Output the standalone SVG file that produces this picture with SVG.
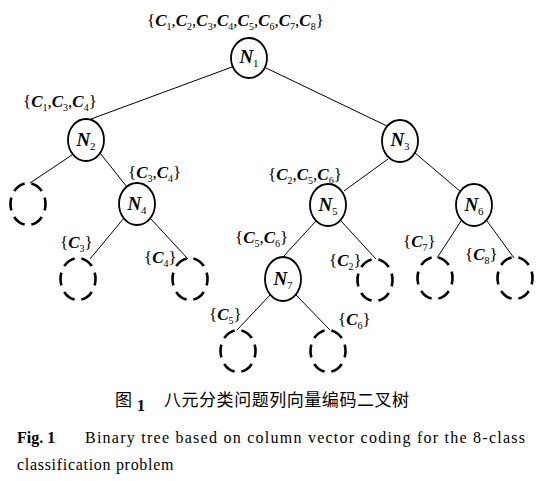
<svg xmlns="http://www.w3.org/2000/svg" width="542" height="481" viewBox="0 0 542 481">
<style>
.bg{fill:#fff}
.node{fill:#fff;stroke:#000;stroke-width:1.8}
.leaf{fill:none;stroke:#000;stroke-width:2.6;stroke-dasharray:13 7;stroke-dashoffset:6.5}
.edge{stroke:#000;stroke-width:1;fill:none}
.lbl{font-family:"Liberation Serif","Times New Roman",serif;font-size:17px;fill:#000}
.c{font-weight:bold;font-style:italic}
.s{font-size:10px;font-weight:normal;font-style:normal}
.nl{font-family:"Liberation Serif","Times New Roman",serif;font-size:19px;font-weight:bold;font-style:italic;fill:#000}
.ns{font-size:11px;font-weight:normal;font-style:normal}
.cn{font-family:"Noto Sans CJK SC","Noto Sans",sans-serif;font-size:17px;fill:#000}
.en{font-family:"Liberation Serif","Times New Roman",serif;font-size:16px;fill:#000}
</style>
<rect class="bg" x="0" y="0" width="542" height="481"/>
<g id="connectors">
<line class="edge" x1="232" y1="67" x2="91" y2="119"/>
<line class="edge" x1="264" y1="67" x2="387" y2="126"/>
<line class="edge" x1="72" y1="155" x2="30" y2="183"/>
<line class="edge" x1="100" y1="153" x2="127" y2="187"/>
<line class="edge" x1="124" y1="218" x2="90" y2="259"/>
<line class="edge" x1="150" y1="218" x2="188" y2="259"/>
<line class="edge" x1="388" y1="159" x2="344" y2="191"/>
<line class="edge" x1="415" y1="153" x2="461" y2="192"/>
<line class="edge" x1="316" y1="221" x2="283" y2="257"/>
<line class="edge" x1="341" y1="221" x2="376" y2="259"/>
<line class="edge" x1="461" y1="221" x2="437" y2="258"/>
<line class="edge" x1="487" y1="221" x2="514" y2="258"/>
<line class="edge" x1="271" y1="294" x2="237" y2="330"/>
<line class="edge" x1="296" y1="295" x2="330" y2="330"/>
</g>
<g id="N1"><ellipse class="node" cx="249" cy="58" rx="18" ry="20"/><text class="nl" x="249" y="63" text-anchor="middle">N<tspan class="ns" dy="4">1</tspan></text></g>
<g id="N2"><ellipse class="node" cx="86" cy="140" rx="18" ry="21"/><text class="nl" x="86" y="146" text-anchor="middle">N<tspan class="ns" dy="4">2</tspan></text></g>
<g id="N3"><ellipse class="node" cx="400" cy="141" rx="18" ry="21"/><text class="nl" x="400" y="146" text-anchor="middle">N<tspan class="ns" dy="4">3</tspan></text></g>
<g id="N4"><ellipse class="node" cx="137" cy="204" rx="18" ry="21"/><text class="nl" x="137" y="210" text-anchor="middle">N<tspan class="ns" dy="4">4</tspan></text></g>
<g id="N5"><ellipse class="node" cx="328" cy="205" rx="18" ry="21"/><text class="nl" x="328" y="211" text-anchor="middle">N<tspan class="ns" dy="4">5</tspan></text></g>
<g id="N6"><ellipse class="node" cx="474" cy="205" rx="18" ry="21"/><text class="nl" x="474" y="211" text-anchor="middle">N<tspan class="ns" dy="4">6</tspan></text></g>
<g id="N7"><ellipse class="node" cx="283" cy="279" rx="18" ry="22"/><text class="nl" x="283" y="285" text-anchor="middle">N<tspan class="ns" dy="4">7</tspan></text></g>
<g id="L1"><ellipse class="leaf" cx="28" cy="204" rx="17.5" ry="21" pathLength="120"/></g>
<g id="L2"><ellipse class="leaf" cx="78" cy="279" rx="17.5" ry="21" pathLength="120"/></g>
<g id="L3"><ellipse class="leaf" cx="190" cy="279" rx="17.5" ry="21" pathLength="120"/></g>
<g id="L4"><ellipse class="leaf" cx="375" cy="280" rx="17.5" ry="21" pathLength="120"/></g>
<g id="L5"><ellipse class="leaf" cx="435" cy="278" rx="17.5" ry="21" pathLength="120"/></g>
<g id="L6"><ellipse class="leaf" cx="515" cy="278" rx="17.5" ry="21" pathLength="120"/></g>
<g id="L7"><ellipse class="leaf" cx="238" cy="351" rx="17.5" ry="21" pathLength="120"/></g>
<g id="L8"><ellipse class="leaf" cx="328" cy="351" rx="17.5" ry="21" pathLength="120"/></g>
<g id="labels">
<text class="lbl" x="147" y="26">{<tspan class="c">C</tspan><tspan class="s" dy="4">1</tspan><tspan dy="-4">,</tspan><tspan class="c">C</tspan><tspan class="s" dy="4">2</tspan><tspan dy="-4">,</tspan><tspan class="c">C</tspan><tspan class="s" dy="4">3</tspan><tspan dy="-4">,</tspan><tspan class="c">C</tspan><tspan class="s" dy="4">4</tspan><tspan dy="-4">,</tspan><tspan class="c">C</tspan><tspan class="s" dy="4">5</tspan><tspan dy="-4">,</tspan><tspan class="c">C</tspan><tspan class="s" dy="4">6</tspan><tspan dy="-4">,</tspan><tspan class="c">C</tspan><tspan class="s" dy="4">7</tspan><tspan dy="-4">,</tspan><tspan class="c">C</tspan><tspan class="s" dy="4">8</tspan><tspan dy="-4">}</tspan></text>
<text class="lbl" x="23" y="107">{<tspan class="c">C</tspan><tspan class="s" dy="4">1</tspan><tspan dy="-4">,</tspan><tspan class="c">C</tspan><tspan class="s" dy="4">3</tspan><tspan dy="-4">,</tspan><tspan class="c">C</tspan><tspan class="s" dy="4">4</tspan><tspan dy="-4">}</tspan></text>
<text class="lbl" x="128" y="178">{<tspan class="c">C</tspan><tspan class="s" dy="4">3</tspan><tspan dy="-4">,</tspan><tspan class="c">C</tspan><tspan class="s" dy="4">4</tspan><tspan dy="-4">}</tspan></text>
<text class="lbl" x="268" y="180">{<tspan class="c">C</tspan><tspan class="s" dy="4">2</tspan><tspan dy="-4">,</tspan><tspan class="c">C</tspan><tspan class="s" dy="4">5</tspan><tspan dy="-4">,</tspan><tspan class="c">C</tspan><tspan class="s" dy="4">6</tspan><tspan dy="-4">}</tspan></text>
<text class="lbl" x="235" y="243">{<tspan class="c">C</tspan><tspan class="s" dy="4">5</tspan><tspan dy="-4">,</tspan><tspan class="c">C</tspan><tspan class="s" dy="4">6</tspan><tspan dy="-4">}</tspan></text>
<text class="lbl" x="60" y="248">{<tspan class="c">C</tspan><tspan class="s" dy="4">3</tspan><tspan dy="-4">}</tspan></text>
<text class="lbl" x="144" y="263">{<tspan class="c">C</tspan><tspan class="s" dy="4">4</tspan><tspan dy="-4">}</tspan></text>
<text class="lbl" x="329" y="266">{<tspan class="c">C</tspan><tspan class="s" dy="4">2</tspan><tspan dy="-4">}</tspan></text>
<text class="lbl" x="403" y="247">{<tspan class="c">C</tspan><tspan class="s" dy="4">7</tspan><tspan dy="-4">}</tspan></text>
<text class="lbl" x="465" y="260">{<tspan class="c">C</tspan><tspan class="s" dy="4">8</tspan><tspan dy="-4">}</tspan></text>
<text class="lbl" x="209" y="320">{<tspan class="c">C</tspan><tspan class="s" dy="4">5</tspan><tspan dy="-4">}</tspan></text>
<text class="lbl" x="338" y="325">{<tspan class="c">C</tspan><tspan class="s" dy="4">6</tspan><tspan dy="-4">}</tspan></text>
</g>
<g id="caption">
<text class="cn" x="115" y="406">图</text>
<text class="en" x="137" y="411" font-weight="bold" font-size="18">1</text>
<text class="cn" x="164" y="406" textLength="245" lengthAdjust="spacing">八元分类问题列向量编码二叉树</text>
<text class="en" x="17" y="443" font-weight="bold">Fig. 1</text>
<text class="en" x="85" y="443" textLength="440" lengthAdjust="spacing">Binary tree based on column vector coding for the 8-class</text>
<text class="en" x="17" y="470" letter-spacing="0.7">classification problem</text>
</g>
</svg>
